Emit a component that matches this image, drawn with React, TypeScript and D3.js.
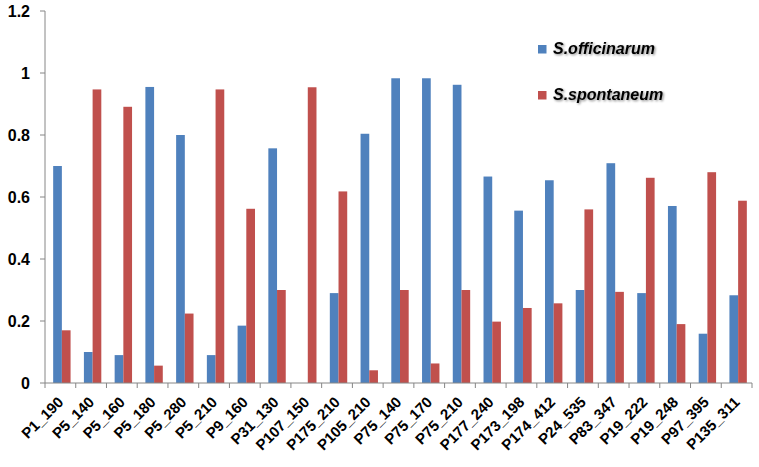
import React from "react";
import * as d3 from "d3";

const categories = ["P1_190","P5_140","P5_160","P5_180","P5_280","P5_210","P9_160","P31_130","P107_150","P175_210","P105_210","P75_140","P75_170","P75_210","P177_240","P173_198","P174_412","P24_535","P83_347","P19_222","P19_248","P97_395","P135_311"];
const officinarum = [0.70,0.10,0.09,0.955,0.80,0.09,0.185,0.757,0,0.29,0.804,0.983,0.983,0.962,0.666,0.556,0.654,0.30,0.709,0.29,0.571,0.159,0.283];
const spontaneum = [0.17,0.947,0.891,0.056,0.224,0.947,0.562,0.30,0.954,0.618,0.041,0.30,0.063,0.30,0.198,0.242,0.257,0.56,0.294,0.662,0.19,0.68,0.588];
const seriesNames = ["S.officinarum", "S.spontaneum"];
const seriesColors = ["#4F81BD", "#C0504D"];
const yTicks = [0, 0.2, 0.4, 0.6, 0.8, 1, 1.2];

const W = 759, H = 467;
const left = 45, right = 752, top = 11, bottom = 383;
const FONT = "Arial, 'Liberation Sans', sans-serif";

export default function App() {
  const x = d3.scaleBand<string>().domain(categories).range([left, right]).paddingInner(0).paddingOuter(0);
  const y = d3.scaleLinear().domain([0, 1.2]).range([bottom, top]);
  const bw = 8.7;
  const inner = d3.scaleBand<number>().domain([0, 1]).range([-bw, bw]).padding(0);
  const series = [officinarum, spontaneum];
  const axisColor = "#868686";
  const tickFmt = (v: number) => (v === 0 ? "0" : v === 1 ? "1" : d3.format(".1f")(v));

  return (
    <div style={{ position: "absolute", left: 0, top: 0 }}>
      <svg width={W} height={H} style={{ display: "block", background: "#fff", fontFamily: FONT }}>
        <defs>
          <filter id="sh" x="-10%" y="-30%" width="130%" height="160%">
            <feDropShadow dx="1.2" dy="1.2" stdDeviation="0.8" floodColor="#000" floodOpacity="0.45" />
          </filter>
        </defs>
        {categories.map((c, i) => {
          const cx = (x(c) as number) + x.bandwidth() / 2 + 1.5;
          return series.map((s, k) => (
            <rect key={c + k} x={cx + (inner(k) as number)} y={y(s[i])} width={inner.bandwidth()} height={bottom - y(s[i])} fill={seriesColors[k]} />
          ));
        })}
        <line x1={left} x2={left} y1={top} y2={bottom} stroke={axisColor} strokeWidth={1} />
        {yTicks.map((t) => (
          <g key={t}>
            <line x1={left - 5} x2={left} y1={y(t)} y2={y(t)} stroke={axisColor} />
            <text x={30} y={y(t)} dy="0.36em" textAnchor="end" fontSize={16} fontWeight="bold" fill="#000">{tickFmt(t)}</text>
          </g>
        ))}
        <line x1={left} x2={right} y1={bottom} y2={bottom} stroke={axisColor} strokeWidth={1} />
        {categories.map((c) => (
          <line key={"t" + c} x1={x(c) as number} x2={x(c) as number} y1={bottom} y2={bottom + 5} stroke={axisColor} />
        ))}
        <line x1={right} x2={right} y1={bottom} y2={bottom + 5} stroke={axisColor} />
        {categories.map((c) => {
          const ex = (x(c) as number) + x.bandwidth() / 2 + 4;
          return (
            <text key={"l" + c} transform={`translate(${ex},${bottom + 20}) rotate(-45)`} fontSize={15} fontWeight="bold" fill="#000" textAnchor="end">
              {c}
            </text>
          );
        })}
        {seriesNames.map((n, k) => (
          <g key={n}>
            <rect x={538} y={45 + k * 46} width={8.5} height={8.5} fill={seriesColors[k]} />
            <text x={553} y={53.5 + k * 46} fontSize={16} fontWeight="bold" fontStyle="italic" fill="#000" filter="url(#sh)">{n}</text>
          </g>
        ))}
      </svg>
    </div>
  );
}
